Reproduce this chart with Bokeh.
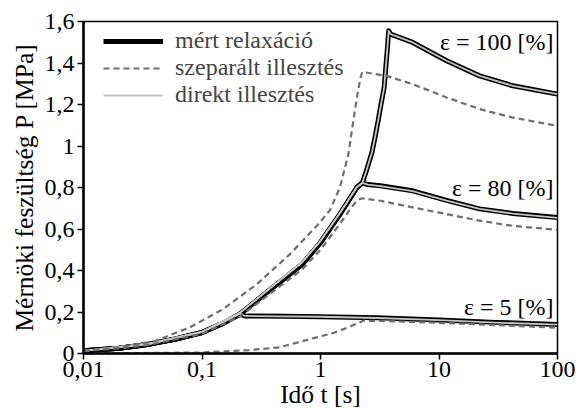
from bokeh.plotting import figure
from bokeh.models import FixedTicker, CustomJSTickFormatter, Legend, LegendItem, Label
from bokeh.embed import file_html
from bokeh.resources import INLINE

# ---------------- data ----------------
x_ticks = [0.01, 0.1, 1, 10, 100]
y_ticks = [0, 0.2, 0.4, 0.6, 0.8, 1.0, 1.2, 1.4, 1.6]

# measured relaxation (mért relaxáció)
meas_t_5 = [0.01, 0.02, 0.036, 0.06, 0.1, 0.15, 0.209, 0.23, 0.5, 1, 3, 10, 30, 100]
meas_P_5 = [0.013, 0.025, 0.045, 0.07, 0.101, 0.145, 0.19, 0.181, 0.179, 0.177, 0.172, 0.161, 0.15, 0.14]

meas_t_80 = [0.01, 0.02, 0.036, 0.06, 0.1, 0.15, 0.209, 0.4, 0.7, 1.0, 1.46, 2.03, 2.25,
             2.5, 3.2, 6, 11.6, 22, 42, 100]
meas_P_80 = [0.013, 0.025, 0.045, 0.07, 0.101, 0.145, 0.19, 0.32, 0.43, 0.535, 0.672, 0.8, 0.822,
             0.814, 0.808, 0.784, 0.738, 0.697, 0.675, 0.655]

meas_t_100 = [0.01, 0.02, 0.036, 0.06, 0.1, 0.15, 0.209, 0.4, 0.7, 1.0, 1.46, 2.03, 2.25,
              2.42, 2.56, 2.72, 2.88, 3.06, 3.24, 3.44, 3.57, 3.68, 3.76, 3.9, 6, 11.6, 22, 42, 100]
meas_P_100 = [0.013, 0.025, 0.045, 0.07, 0.101, 0.145, 0.19, 0.32, 0.43, 0.535, 0.672, 0.8, 0.822,
              0.875, 0.92, 0.97, 1.04, 1.12, 1.2, 1.28, 1.39, 1.48, 1.555, 1.539, 1.499, 1.411, 1.338, 1.29, 1.25]

# separated fit (szeparált illesztés)
sep_t_5 = [0.01, 0.05, 0.1, 0.25, 0.45, 0.93, 1.3, 1.7, 2.3, 3.2, 10, 30, 100]
sep_P_5 = [0.001, 0.003, 0.005, 0.016, 0.03, 0.078, 0.1, 0.125, 0.158, 0.157, 0.148, 0.137, 0.124]

sep_t_80 = [0.01, 0.02, 0.036, 0.1, 0.209, 0.4, 0.7, 1.0, 1.46, 1.8, 2.05, 2.25,
            3.2, 6, 11.6, 22, 42, 100]
sep_P_80 = [0.013, 0.024, 0.042, 0.095, 0.178, 0.3, 0.405, 0.5, 0.625, 0.7, 0.74, 0.748,
            0.736, 0.704, 0.672, 0.64, 0.615, 0.596]

sep_t_100 = [0.01, 0.02, 0.04, 0.079, 0.151, 0.29, 0.553, 0.93, 1.2, 1.46, 1.72, 1.89, 2.05, 2.18, 2.25,
             3.6, 6, 11.6, 22, 42, 100]
sep_P_100 = [0.013, 0.03, 0.06, 0.126, 0.214, 0.334, 0.479, 0.615, 0.69, 0.8, 0.961, 1.12, 1.25, 1.33, 1.357,
             1.338, 1.298, 1.234, 1.178, 1.137, 1.097]

# direct fit (direkt illesztés)
dir_t_5 = [0.01, 0.036, 0.1, 0.15, 0.209, 0.23, 1, 3, 10, 30, 100]
dir_P_5 = [0.013, 0.047, 0.104, 0.15, 0.192, 0.181, 0.177, 0.171, 0.161, 0.149, 0.139]

dir_t_80 = [0.01, 0.036, 0.1, 0.209, 0.4, 0.7, 1.0, 1.46, 2.03, 2.25, 2.5, 3.2, 6, 11.6, 22, 42, 100]
dir_P_80 = [0.013, 0.047, 0.104, 0.196, 0.328, 0.44, 0.543, 0.677, 0.802, 0.822,
            0.814, 0.807, 0.783, 0.737, 0.697, 0.674, 0.654]

dir_t_100 = [0.01, 0.036, 0.1, 0.209, 0.4, 0.7, 1.0, 1.46, 2.03, 2.25, 2.42, 2.56, 2.72, 2.88, 3.06, 3.24,
             3.44, 3.57, 3.68, 3.76, 3.9, 6, 11.6, 22, 42, 100]
dir_P_100 = [0.013, 0.047, 0.104, 0.196, 0.328, 0.44, 0.543, 0.677, 0.802, 0.822, 0.875, 0.92, 0.97, 1.04,
             1.12, 1.2, 1.28, 1.39, 1.48, 1.555, 1.539, 1.499, 1.411, 1.338, 1.29, 1.25]

strain_labels = ["ε = 100 [%]", "ε = 80 [%]", "ε = 5 [%]"]
strain_label_y = [1.50, 0.80, 0.222]

legend_labels = ["mért relaxáció", "szeparált illesztés", "direkt illesztés"]

# ---------------- figure ----------------
FONT = "Liberation Serif"

p = figure(width=579, height=414, x_axis_type="log", x_range=(0.01, 100), y_range=(0, 1.6),
           output_backend="svg", toolbar_location=None,
           min_border_left=83, min_border_right=22, min_border_top=21, min_border_bottom=61)

p.background_fill_color = "white"
p.border_fill_color = "white"
p.outline_line_color = "black"
p.outline_line_width = 1.5
p.xgrid.visible = False
p.ygrid.visible = False

meas_sets = [(meas_t_5, meas_P_5), (meas_t_80, meas_P_80), (meas_t_100, meas_P_100)]
sep_sets = [(sep_t_5, sep_P_5), (sep_t_80, sep_P_80), (sep_t_100, sep_P_100)]
dir_sets = [(dir_t_5, dir_P_5), (dir_t_80, dir_P_80), (dir_t_100, dir_P_100)]

meas_r = []
for t, P in meas_sets:
    meas_r.append(p.line(t, P, line_color="black", line_width=5, line_join="round"))
dir_r = []
for t, P in dir_sets:
    dir_r.append(p.line(t, P, line_color="#c4c4c4", line_width=1.8, line_join="round"))
sep_r = []
for t, P in sep_sets:
    sep_r.append(p.line(t, P, line_color="#6e6e6e", line_width=2.2, line_dash="6 4"))

# axes
for ax in (p.xaxis[0], p.yaxis[0]):
    ax.axis_line_width = 2.5
    ax.axis_line_color = "black"
    ax.major_tick_line_width = 1.5
    ax.major_tick_line_color = "black"
    ax.major_tick_out = 6
    ax.major_tick_in = 0
    ax.minor_tick_line_color = None
    ax.major_label_text_font = FONT
    ax.major_label_text_font_size = "24px"
    ax.major_label_text_color = "black"
    ax.axis_label_text_font = FONT
    ax.axis_label_text_font_size = "25.5px"
    ax.axis_label_text_font_style = "normal"
    ax.axis_label_text_color = "black"
    ax.formatter = CustomJSTickFormatter(code="return tick.toString().replace('.', ',');")

p.xaxis[0].ticker = FixedTicker(ticks=x_ticks)
p.yaxis[0].ticker = FixedTicker(ticks=y_ticks)
p.xaxis[0].axis_label = "Idő t [s]"
p.yaxis[0].axis_label = "Mérnöki feszültség P [MPa]"
p.xaxis[0].major_label_standoff = 2
p.yaxis[0].major_label_standoff = 3
p.xaxis[0].axis_label_standoff = 0
p.yaxis[0].axis_label_standoff = 3

# legend
legend = Legend(items=[LegendItem(label=legend_labels[0], renderers=[meas_r[0]]),
                       LegendItem(label=legend_labels[1], renderers=[sep_r[0]]),
                       LegendItem(label=legend_labels[2], renderers=[dir_r[0]])],
                location=(20, 245), orientation="vertical")
legend.background_fill_alpha = 0
legend.border_line_color = None
legend.label_text_font = FONT
legend.label_text_font_size = "24px"
legend.label_text_line_height = 1.0
legend.glyph_width = 60
legend.glyph_height = 22
legend.label_height = 22
legend.label_standoff = 12
legend.spacing = -2
legend.padding = 0
legend.margin = 0
p.add_layout(legend)

for txt, yv in zip(strain_labels, strain_label_y):
    p.add_layout(Label(x=100, y=yv, text=txt, text_align="right", text_baseline="middle",
                       x_offset=-4, text_font=FONT, text_font_size="24px", text_color="black"))

open("out.html", "w").write(file_html(p, INLINE))
